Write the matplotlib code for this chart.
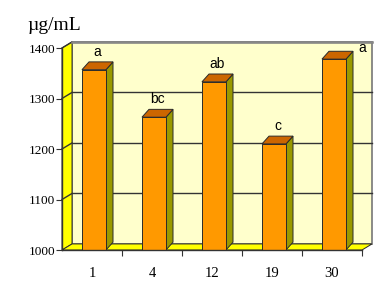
import matplotlib
matplotlib.use("Agg")
import matplotlib.pyplot as plt
from matplotlib.patches import Polygon

days = ["1", "4", "12", "19", "30"]
conc = [1357, 1263, 1333, 1210, 1378]
letters = ["a", "bc", "ab", "c", "a"]
yticks = [1000, 1100, 1200, 1300, 1400]

ymin, ymax = 1000, 1400
# fake 3d offsets (data units)
wdx, wdy = 0.167, 12.0      # wall depth
bdx, bdy = 0.117, 15.5      # bar depth
bw = 0.4                    # bar width
shift = 0.033

fig = plt.figure(figsize=(3.76, 2.86), dpi=100)
ax = fig.add_axes([62 / 376, 36 / 286, 300 / 376, 202 / 286])
ax.set_xlim(-0.5, len(days) - 0.5)
ax.set_ylim(ymin, ymax)
ax.patch.set_visible(False)
x0, x1 = -0.5, len(days) - 0.5

def poly(pts, fc, ec="#2a2a2a", lw=0.7, z=1):
    ax.add_patch(Polygon(pts, closed=True, fc=fc, ec=ec, lw=lw, zorder=z, clip_on=False))

# back wall
poly([(x0 + wdx, ymin + wdy), (x1 + wdx, ymin + wdy), (x1 + wdx, ymax + wdy), (x0 + wdx, ymax + wdy)],
     "#FFFFCC", ec="#777777", lw=1.2, z=0.5)
# side wall
poly([(x0, ymin), (x0 + wdx, ymin + wdy), (x0 + wdx, ymax + wdy), (x0, ymax)], "#FFFF00", z=0.6)
# floor
poly([(x0, ymin), (x1, ymin), (x1 + wdx, ymin + wdy), (x0 + wdx, ymin + wdy)], "#FFFF00", z=0.6)

# gridlines on back wall and side wall
for v in yticks[1:]:
    ax.plot([x0 + wdx, x1 + wdx], [v + wdy, v + wdy], color="#333333", lw=1.0, zorder=0.7, clip_on=False)
    ax.plot([x0, x0 + wdx], [v, v + wdy], color="#333333", lw=1.0, zorder=0.7, clip_on=False)
ax.plot([x0 + wdx, x1 + wdx], [ymax + wdy, ymax + wdy], color="#888888", lw=1.8, zorder=0.7, clip_on=False)

# bars
for i, v in enumerate(conc):
    l = i - bw / 2 + shift
    r = i + bw / 2 + shift
    poly([(r, ymin), (r + bdx, ymin + bdy), (r + bdx, v + bdy), (r, v)], "#999900", z=2)
    poly([(l, v), (r, v), (r + bdx, v + bdy), (l + bdx, v + bdy)], "#CC6600", z=2)
    poly([(l, ymin), (r, ymin), (r, v), (l, v)], "#FF9900", z=2)

# significance letters
for i, (v, s) in enumerate(zip(conc, letters)):
    if i == len(conc) - 1:
        ax.text(x1, v + 8, s, ha="center", va="bottom", fontsize=10,
                family="Liberation Sans", zorder=3)
    else:
        ax.text(i + shift + bdx / 2, v + bdy + 6, s, ha="center", va="bottom", fontsize=10,
                family="Liberation Sans", zorder=3)

for s in ["top", "right"]:
    ax.spines[s].set_visible(False)
for s in ["left", "bottom"]:
    ax.spines[s].set_color("#333333")
    ax.spines[s].set_linewidth(1.0)
    ax.spines[s].set_zorder(2.5)

ax.set_yticks(yticks)
ax.set_yticklabels([str(t) for t in yticks], family="Liberation Serif", fontsize=9.5)
ax.tick_params(axis="y", length=4, width=0.8, pad=1, color="#333333")
ax.set_xticks(range(len(days)))
ax.set_xticklabels(days, family="Liberation Serif", fontsize=10.5)
ax.set_xticks([i + 0.5 for i in range(len(days))], minor=True)
ax.tick_params(axis="x", which="major", length=0, pad=12)
ax.tick_params(axis="x", which="minor", length=4, width=0.8, color="#333333")

fig.text(27 / 376, 1 - 30 / 286, "\u00b5g/mL", family="Liberation Serif", fontsize=14,
         ha="left", va="baseline")

fig.savefig("out.png", dpi=100)
